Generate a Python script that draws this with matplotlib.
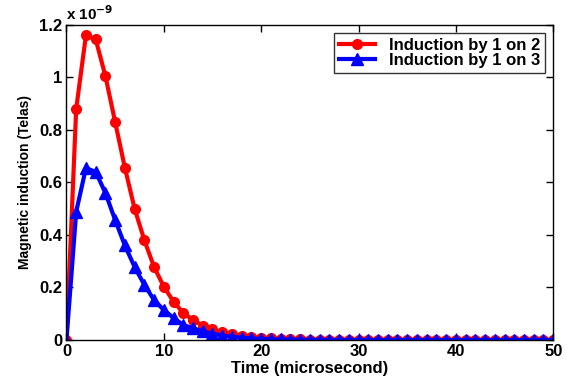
import matplotlib
matplotlib.use("Agg")
import matplotlib.pyplot as plt

plt.rcParams['font.family'] = ['Liberation Sans', 'DejaVu Sans']
plt.rcParams['font.weight'] = 'bold'

# time in microseconds (one sample per microsecond)
time_us = list(range(0, 51))

# magnetic induction, units of 1e-9 Tesla
induction_1_on_2 = [0.0, 0.88, 1.16, 1.145, 1.005, 0.83, 0.656, 0.50, 0.38, 0.278,
                    0.203, 0.146, 0.103, 0.076, 0.055, 0.040, 0.029, 0.021, 0.015, 0.011,
                    0.008, 0.006, 0.004, 0.003, 0.002, 0.0015, 0.001, 0.001, 0.0007, 0.0005,
                    0.0004, 0.0003, 0.0002, 0.0002, 0.0001, 0.0001, 0.0001, 0.0, 0.0, 0.0,
                    0.0, 0.0, 0.0, 0.0, 0.0, 0.0, 0.0, 0.0, 0.0, 0.0, 0.0]
induction_1_on_3 = [0.0, 0.488, 0.655, 0.64, 0.56, 0.457, 0.36, 0.278, 0.21, 0.152,
                    0.114, 0.084, 0.057, 0.045, 0.033, 0.024, 0.017, 0.012, 0.009, 0.006,
                    0.004, 0.003, 0.002, 0.0015, 0.001, 0.0007, 0.0005, 0.0003, 0.0002, 0.0002,
                    0.0001, 0.0001, 0.0, 0.0, 0.0, 0.0, 0.0, 0.0, 0.0, 0.0,
                    0.0, 0.0, 0.0, 0.0, 0.0, 0.0, 0.0, 0.0, 0.0, 0.0, 0.0]

fig = plt.figure(figsize=(5.68, 3.82), dpi=100)
ax = fig.add_axes([0.117, 0.11, 0.857, 0.825])

ax.plot(time_us, [v * 1e-9 for v in induction_1_on_2], color='#ff0000', lw=3,
        marker='o', markersize=7, label='Induction by 1 on 2')
ax.plot(time_us, [v * 1e-9 for v in induction_1_on_3], color='#0000ff', lw=3,
        marker='^', markersize=8, label='Induction by 1 on 3')

ax.set_xlim(0, 50)
ax.set_ylim(0, 1.2e-9)
ax.set_xticks([0, 10, 20, 30, 40, 50])
ax.set_yticks([0, 0.2e-9, 0.4e-9, 0.6e-9, 0.8e-9, 1.0e-9, 1.2e-9])
ax.set_yticklabels(['0', '0.2', '0.4', '0.6', '0.8', '1', '1.2'])
ax.tick_params(direction='in', top=True, right=True, labelsize=12, width=1, length=5, pad=3)
for s in ax.spines.values():
    s.set_linewidth(1)
ax.text(0, 1.005, r'x 10$^{\mathbf{-9}}$', transform=ax.transAxes, fontsize=11,
        fontweight='bold', va='bottom', ha='left')

ax.set_xlabel('Time (microsecond)', fontsize=12, fontweight='bold', labelpad=1)
ax.set_ylabel('Magnetic induction (Telas)', fontsize=10, fontweight='bold', labelpad=5)

leg = ax.legend(loc='upper right', fontsize=12, frameon=True, fancybox=False,
                edgecolor='black', borderpad=0.3, labelspacing=0.0, handlelength=2.2,
                handletextpad=0.8, borderaxespad=0.5)
leg.get_frame().set_linewidth(1)
for t in leg.get_texts():
    t.set_fontweight('bold')

fig.savefig('out.png', dpi=100)
